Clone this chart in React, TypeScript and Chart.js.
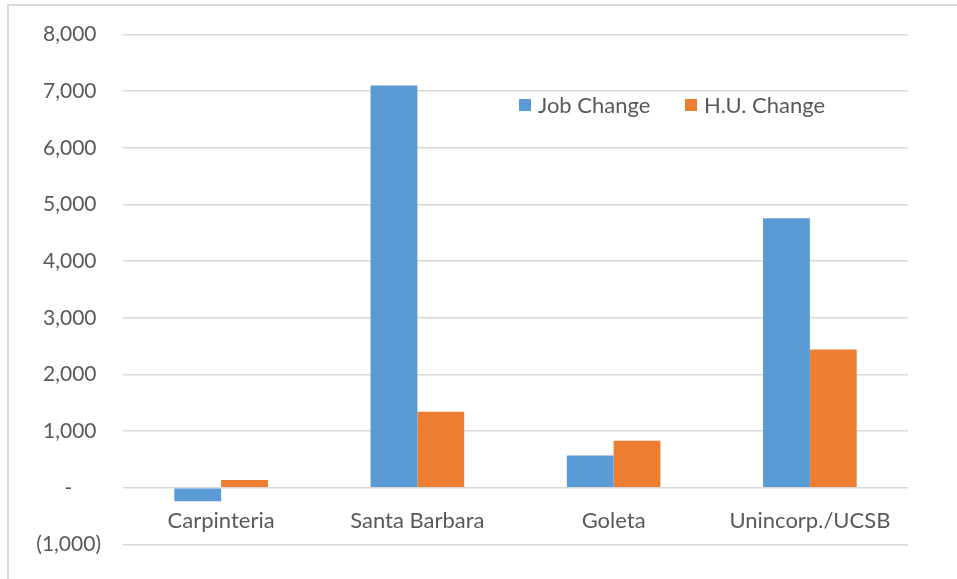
import React, { useEffect, useRef } from "react";
import { Chart, registerables } from "chart.js";

Chart.register(...registerables);

const categories = ["Carpinteria", "Santa Barbara", "Goleta", "Unincorp./UCSB"];
const jobChange = [-240, 7100, 570, 4760];
const huChange = [135, 1340, 830, 2440];
const seriesNames = ["Job Change", "H.U. Change"];
const yTicks = [-1000, 0, 1000, 2000, 3000, 4000, 5000, 6000, 7000, 8000];

const FONT = "Lato, 'Noto Sans', sans-serif";
const TEXT = "#595959";

function fmt(v: number): string {
  if (v === 0) return "-\u2007\u2007\u2008";
  const s = Math.abs(v).toLocaleString("en-US");
  return v < 0 ? "(" + s + ")" : s + "\u2008";
}

const legendPlugin = {
  id: "insideLegend",
  afterDraw(chart: any) {
    const ctx = chart.ctx;
    const opts = chart.options.plugins.insideLegend;
    ctx.save();
    ctx.font = `${opts.fontSize}px ${FONT}`;
    ctx.textBaseline = "middle";
    ctx.textAlign = "left";
    chart.data.datasets.forEach((ds: any, i: number) => {
      const x = opts.x[i];
      const y = opts.y;
      ctx.fillStyle = ds.backgroundColor;
      ctx.fillRect(x, y - opts.box / 2, opts.box, opts.box);
      ctx.fillStyle = TEXT;
      ctx.fillText(ds.label, x + opts.box + 7, y + 1);
    });
    ctx.restore();
  },
};

export default function App() {
  const ref = useRef<HTMLCanvasElement>(null);
  useEffect(() => {
    if (!ref.current) return;
    const chart = new Chart(ref.current, {
      type: "bar",
      data: {
        labels: categories,
        datasets: [
          { label: seriesNames[0], data: jobChange, backgroundColor: "#5B9BD5" },
          { label: seriesNames[1], data: huChange, backgroundColor: "#ED7D31" },
        ],
      },
      options: {
        animation: false,
        responsive: false,
        layout: { padding: { left: 0, top: 34, right: 49, bottom: 33 } },
        datasets: { bar: { categoryPercentage: 0.477, barPercentage: 1 } },
        plugins: {
          legend: { display: false },
          tooltip: { enabled: false },
          insideLegend: { x: [519, 685], y: 105, box: 12, fontSize: 22 },
        } as any,
        scales: {
          x: {
            position: { y: 0 } as any,
            grid: { display: false },
            border: { display: false },
            ticks: { color: TEXT, font: { family: FONT, size: 22 }, padding: 12, maxRotation: 0 },
          },
          y: {
            min: -1000,
            max: 8000,
            afterBuildTicks: (s: any) => {
              s.ticks = yTicks.map((v) => ({ value: v }));
            },
            afterFit: (s: any) => {
              s.width = 123;
            },
            grid: { color: "#D9D9D9", lineWidth: 1.5, drawTicks: false },
            border: { display: false },
            ticks: {
              color: TEXT,
              font: { family: FONT, size: 21 },
              padding: 22,
              callback: (v: any) => fmt(Number(v)),
            },
          },
        },
      },
      plugins: [legendPlugin],
    });
    return () => chart.destroy();
  }, []);
  return (
    <div style={{ position: "absolute", left: 0, top: 0, width: 957, height: 579, overflow: "hidden", background: "#fff" }}>
      <div
        style={{
          position: "absolute",
          left: 7,
          top: 4,
          width: 1000,
          height: 700,
          borderLeft: "2px solid #D9D9D9",
          borderTop: "2px solid #D9D9D9",
        }}
      />
      <canvas ref={ref} width={957} height={579} style={{ position: "absolute", left: 0, top: 0 }} />
    </div>
  );
}
